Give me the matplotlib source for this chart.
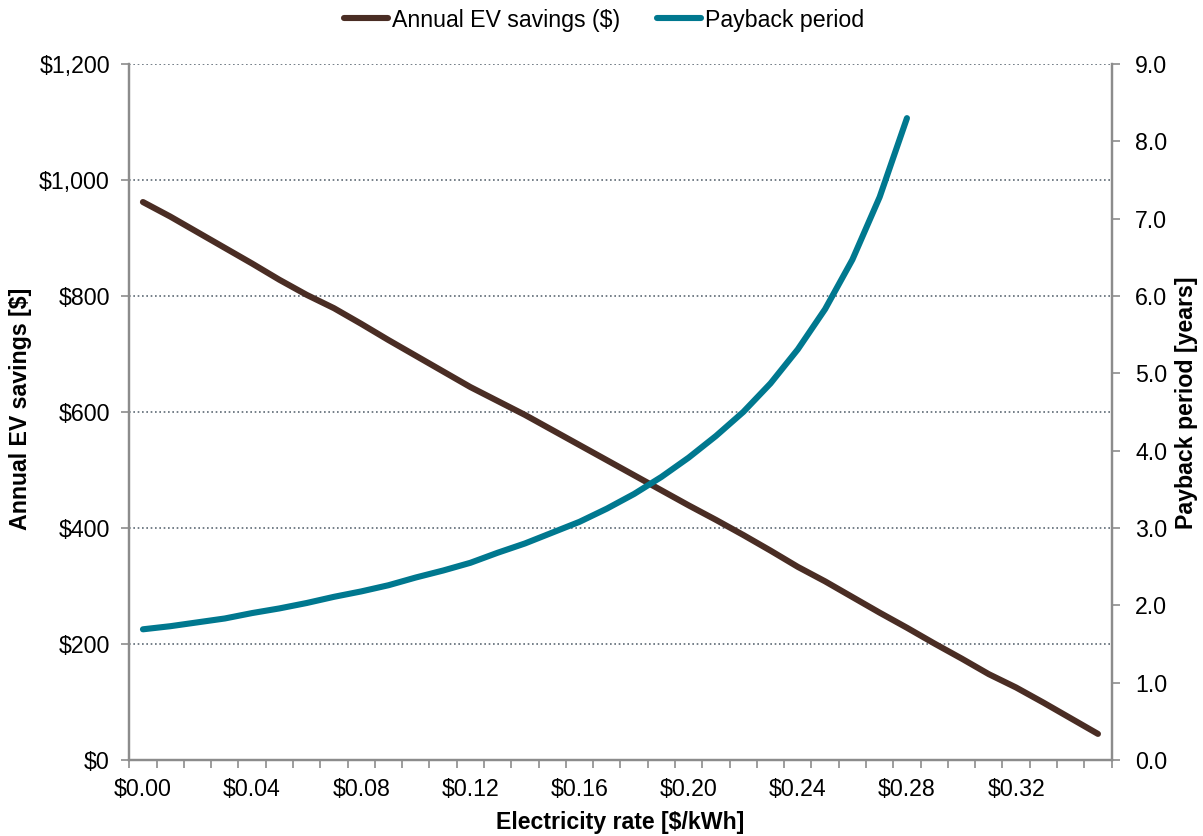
import matplotlib
matplotlib.use("Agg")
import matplotlib.pyplot as plt
from matplotlib.ticker import FuncFormatter, FixedLocator
import numpy as np

plt.rcParams['font.family'] = ['Liberation Sans', 'DejaVu Sans']

# ---- data ----
rates = [0.00, 0.01, 0.02, 0.03, 0.04, 0.05, 0.06, 0.07, 0.08, 0.09,
         0.10, 0.11, 0.12, 0.13, 0.14, 0.15, 0.16, 0.17, 0.18, 0.19,
         0.20, 0.21, 0.22, 0.23, 0.24, 0.25, 0.26, 0.27, 0.28, 0.29,
         0.30, 0.31, 0.32, 0.33, 0.34, 0.35]
savings = [962, 937, 910, 883, 856, 828, 802, 779, 752, 724,
           697, 670, 643, 619, 595, 569, 543, 517, 491, 465,
           439, 414, 388, 361, 333, 308, 281, 254, 228, 201,
           175, 148, 125, 99, 72, 45]
payback = [1.69, 1.73, 1.78, 1.83, 1.90, 1.96, 2.03, 2.11, 2.18, 2.26,
           2.36, 2.45, 2.55, 2.68, 2.80, 2.94, 3.08, 3.25, 3.44, 3.66,
           3.91, 4.19, 4.50, 4.87, 5.31, 5.83, 6.47, 7.28, 8.30]
label_every = 4
left_ticks = [0, 200, 400, 600, 800, 1000, 1200]
right_ticks = [0, 1, 2, 3, 4, 5, 6, 7, 8, 9]

BROWN = '#4A2D24'
TEAL = '#00788F'
SPINE = '#8C8C8C'
GRID = '#5E6A74'
FS = 16.7

W, H = 1203, 836
fig = plt.figure(figsize=(W / 100, H / 100), dpi=100)
L, R, T, B = 129.3, 1111.6, 64, 760
ax = fig.add_axes([L / W, 1 - B / H, (R - L) / W, (B - T) / H])
ax2 = ax.twinx()

n = len(rates)
idx = np.arange(n)
l1, = ax.plot(idx, savings, color=BROWN, lw=4.4, solid_capstyle='round',
              solid_joinstyle='round', label='Annual EV savings ($)', zorder=3)
l2, = ax2.plot(idx[:len(payback)], payback, color=TEAL, lw=4.4,
               solid_capstyle='round', solid_joinstyle='round',
               label='Payback period', zorder=3)

ax.set_xlim(-0.5, n - 0.5)
ax.set_ylim(0, 1200)
ax2.set_ylim(0, 9)

# x ticks: marks at category boundaries, labels at category centres
ax.xaxis.set_major_locator(FixedLocator(np.arange(n + 1) - 0.5))
ax.xaxis.set_major_formatter(FuncFormatter(lambda v, p: ''))
lab_pos = list(range(0, n, label_every))
ax.xaxis.set_minor_locator(FixedLocator(lab_pos))
ax.xaxis.set_minor_formatter(FuncFormatter(
    lambda v, p: '${:.2f}'.format(rates[int(round(v))])))
ax.tick_params(axis='x', which='major', length=6, width=1.2, color=SPINE,
               direction='out')
ax.tick_params(axis='x', which='minor', length=0, labelsize=FS, pad=13,
               labelcolor='black')

ax.set_yticks(left_ticks)
ax.yaxis.set_major_formatter(FuncFormatter(lambda v, p: '${:,.0f}'.format(v)))
ax.tick_params(axis='y', length=6, width=1.2, color=SPINE, labelsize=FS,
               pad=8, direction='out')
ax2.set_yticks(right_ticks)
ax2.yaxis.set_major_formatter(FuncFormatter(lambda v, p: '{:.1f}'.format(v)))
ax2.tick_params(axis='y', length=6, width=1.2, color=SPINE, labelsize=FS,
                pad=11, direction='out')

ax.yaxis.grid(True, linestyle=(0, (1.0, 1.6)), color=GRID, lw=1.2)
ax.set_axisbelow(True)

for a in (ax, ax2):
    a.spines['top'].set_visible(False)
    for s in ('left', 'right', 'bottom'):
        a.spines[s].set_color(SPINE)
        a.spines[s].set_linewidth(1.6)

fig.text(0.5 * (L + R) / W, 1 - 822 / H, 'Electricity rate [$/kWh]',
         ha='center', va='center', fontsize=FS, fontweight='bold')
fig.text(21 / W, 1 - 409 / H, 'Annual EV savings [$]',
         ha='center', va='center', rotation=90, fontsize=FS, fontweight='bold')
fig.text(1187 / W, 1 - 403 / H, 'Payback period [years]',
         ha='center', va='center', rotation=90, fontsize=FS, fontweight='bold')

fig.legend(handles=[l1, l2], loc='center', bbox_to_anchor=(604 / W, 1 - 20 / H),
           ncol=2, frameon=False, fontsize=FS, handlelength=1.9,
           handletextpad=0.15, columnspacing=1.6, borderaxespad=0)

fig.savefig('out.png', dpi=100)
